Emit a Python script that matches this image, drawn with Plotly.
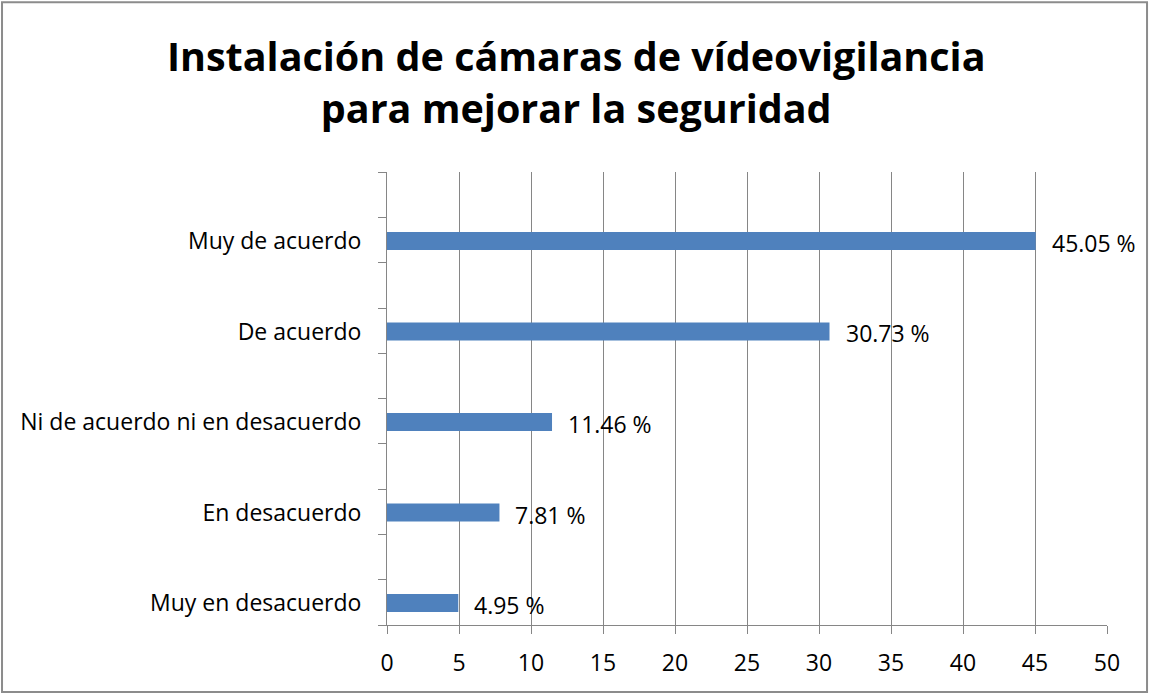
import plotly.graph_objects as go

categories = ["Muy en desacuerdo", "En desacuerdo", "Ni de acuerdo ni en desacuerdo", "De acuerdo", "Muy de acuerdo"]
values = [4.95, 7.81, 11.46, 30.73, 45.05]
x_ticks = [0, 5, 10, 15, 20, 25, 30, 35, 40, 45, 50]
title_lines = ["Instalación de cámaras de vídeovigilancia", "para mejorar la seguridad"]

FONT = "Open Sans"
GRID = "#868686"
FS = 23
ypos = list(range(len(categories)))

fig = go.Figure(go.Bar(
    x=values, y=ypos, orientation="h",
    marker=dict(color="#4F81BD", line=dict(width=0)),
    width=0.2, hoverinfo="skip",
))

for v, p in zip(values, ypos):
    fig.add_annotation(x=v, y=p, text=f"{v:.2f} %", showarrow=False,
                       xanchor="left", yanchor="middle", xshift=14, yshift=-2,
                       font=dict(family=FONT, size=FS, color="#000000"))

fig.update_layout(
    width=1149, height=694,
    margin=dict(l=387, r=42, t=172, b=69),
    paper_bgcolor="white", plot_bgcolor="white",
    showlegend=False,
    title=dict(text="<br>".join(title_lines), x=0.5015, xanchor="center",
               y=0.897, yanchor="middle",
               font=dict(family=FONT, size=39.5, color="#000000", weight="bold")),
    font=dict(family=FONT, size=FS, color="#000000"),
)
fig.update_xaxes(range=[0, 50], tickvals=x_ticks, showgrid=True, gridcolor=GRID, gridwidth=1,
                 showline=True, linecolor=GRID, linewidth=1,
                 ticks="outside", ticklen=8, tickcolor=GRID, zeroline=False,
                 ticklabelstandoff=9,
                 tickfont=dict(family=FONT, size=FS), fixedrange=True)
fig.update_yaxes(range=[-0.243, 4.762], tickvals=ypos, ticktext=categories,
                 showgrid=False, showline=True, linecolor=GRID, linewidth=1,
                 ticks="", ticklabelstandoff=20, zeroline=False, fixedrange=True,
                 minor=dict(ticks="outside", tick0=-0.243, dtick=0.5, ticklen=8,
                            tickcolor=GRID, showgrid=False),
                 tickfont=dict(family=FONT, size=FS))

fig.add_shape(type="rect", xref="paper", yref="paper",
              x0=-0.5347, x1=1.0556, y0=-0.1479, y1=1.375,
              line=dict(color="#8c8c8c", width=2), fillcolor="rgba(0,0,0,0)", layer="above")

fig.write_html("out.html", config={"displayModeBar": False},
               post_script="document.body.style.margin='0';")
